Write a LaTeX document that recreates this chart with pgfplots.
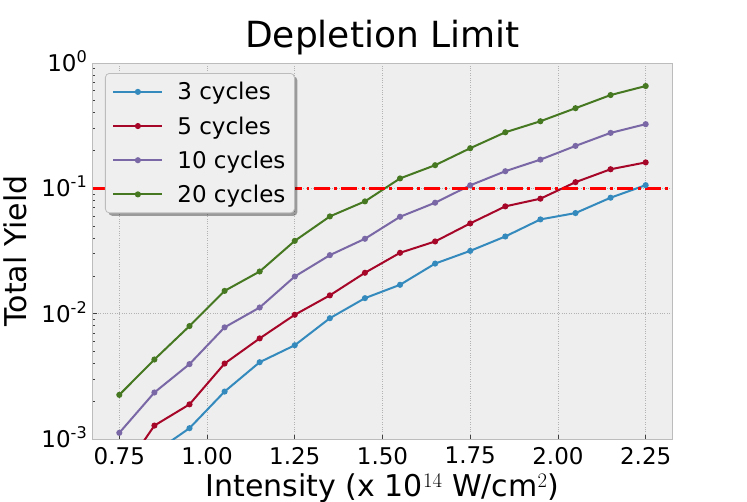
\documentclass[border=0pt]{standalone}
\usepackage{fontspec}
\setmainfont{DejaVu Sans}
\usepackage{pgfplots}
\pgfplotsset{compat=1.18}
\usetikzlibrary{shadows}

\definecolor{bmhblue}{HTML}{348ABD}
\definecolor{bmhred}{HTML}{A60628}
\definecolor{bmhpurple}{HTML}{7A68A6}
\definecolor{bmhgreen}{HTML}{467821}
\definecolor{bgcol}{HTML}{EEEEEE}
\definecolor{framecol}{HTML}{BCBCBC}
\definecolor{gridcol}{HTML}{B2B2B2}
\definecolor{legfill}{HTML}{EFEFEF}

\newcommand{\tickfont}{\fontsize{23bp}{27bp}\selectfont}
\newcommand{\labelfont}{\fontsize{30bp}{34bp}\selectfont}

% the legend's drop shadow should not reach the sample lines inside it
\makeatletter
\tikzset{no preactions/.code={\let\tikz@preactions\pgfutil@empty}}
\makeatother

\begin{document}
\begin{tikzpicture}
\useasboundingbox (-93bp,-63bp) rectangle (654bp,439bp);
\begin{axis}[
    scale only axis,
    width=579bp, height=376bp,
    ymode=log,
    xmin=0.675, xmax=2.325,
    ymin=1e-3, ymax=1,
    axis background/.style={fill=bgcol},
    axis line style={draw=framecol, line width=1bp},
    grid=major,
    major grid style={draw=gridcol, dotted, line width=0.7bp},
    tick align=inside,
    xtick pos=bottom, ytick pos=left,
    tick style={draw=black!75, line width=0.8bp},
    major tick length=4.5bp, minor tick length=2.5bp,
    xtick={0.75,1.0,1.25,1.5,1.75,2.0,2.25},
    xticklabels={0.75,1.00,1.25,1.50,1.75,2.00,2.25},
    ytick={0.001,0.01,0.1,1},
    yticklabels={10\textsuperscript{-3},10\textsuperscript{-2},10\textsuperscript{-1},10\textsuperscript{0}},
    ticklabel style={font=\tickfont},
    xticklabel style={anchor=north, inner sep=0pt, yshift=-8bp},
    yticklabel style={anchor=base east, inner sep=0pt, xshift=-5.5bp, yshift=-8.4bp},
    title={Depletion Limit},
    title style={at={(axis description cs:0.5,1)}, anchor=base, yshift=10bp,
        font=\fontsize{36bp}{40bp}\selectfont},
    xlabel={Intensity (x 10$^{14}$ W/cm$^2$)},
    xlabel style={at={(axis description cs:0.5,0)}, anchor=base, yshift=-57bp, font=\labelfont},
    ylabel={Total Yield},
    ylabel style={at={(axis description cs:-0.1157,0.5)}, anchor=base, font=\labelfont},
    legend style={at={(axis description cs:0,1)}, anchor=north west,
        xshift=12bp, yshift=-10bp,
        fill=legfill, draw=framecol, line width=0.8bp, rounded corners=4bp,
        drop shadow={shadow xshift=3bp, shadow yshift=-3bp, fill=black, opacity=0.35},
        font=\tickfont, inner xsep=7bp, inner ysep=7bp,
        nodes={inner sep=2bp}, row sep=11.2bp, column sep=12bp},
    legend cell align=left,
    legend image code/.code={
        \draw[no preactions, mark repeat=2, mark phase=2]
            plot coordinates {(0bp,0bp) (24.5bp,0bp) (49bp,0bp)};
    },
    every axis plot/.append style={line width=2bp, mark=*, mark size=2bp},
]
% 3 cycles
\addplot[color=bmhblue, mark options={fill=bmhblue, draw=bmhblue}] coordinates {
    (0.75,0.0004) (0.85,0.00078) (0.95,0.00122) (1.05,0.00239) (1.15,0.0041)
    (1.25,0.0056) (1.35,0.0092) (1.45,0.0133) (1.55,0.017) (1.65,0.0251)
    (1.75,0.0317) (1.85,0.0413) (1.95,0.0565) (2.05,0.0635) (2.15,0.0842) (2.25,0.106)};
% 5 cycles
\addplot[color=bmhred, mark options={fill=bmhred, draw=bmhred}] coordinates {
    (0.75,0.0005) (0.85,0.00128) (0.95,0.00189) (1.05,0.0040) (1.15,0.00635)
    (1.25,0.0098) (1.35,0.014) (1.45,0.0212) (1.55,0.0306) (1.65,0.0377)
    (1.75,0.0525) (1.85,0.0718) (1.95,0.0827) (2.05,0.112) (2.15,0.142) (2.25,0.161)};
% 10 cycles
\addplot[color=bmhpurple, mark options={fill=bmhpurple, draw=bmhpurple}] coordinates {
    (0.75,0.00112) (0.85,0.00235) (0.95,0.00396) (1.05,0.00778) (1.15,0.0112)
    (1.25,0.0198) (1.35,0.0293) (1.45,0.0396) (1.55,0.0593) (1.65,0.0768)
    (1.75,0.1057) (1.85,0.137) (1.95,0.1695) (2.05,0.218) (2.15,0.277) (2.25,0.325)};
% 20 cycles
\addplot[color=bmhgreen, mark options={fill=bmhgreen, draw=bmhgreen}] coordinates {
    (0.75,0.00225) (0.85,0.00431) (0.95,0.00797) (1.05,0.0152) (1.15,0.0217)
    (1.25,0.0381) (1.35,0.0597) (1.45,0.0787) (1.55,0.12) (1.65,0.153)
    (1.75,0.209) (1.85,0.28) (1.95,0.343) (2.05,0.436) (2.15,0.555) (2.25,0.655)};
\legend{3 cycles, 5 cycles, 10 cycles, 20 cycles}
% depletion limit
\addplot[red, line width=2.8bp, mark=none, forget plot,
    dash pattern=on 16bp off 4.4bp on 2.8bp off 4.4bp] coordinates {(0.675,0.1) (2.325,0.1)};
\end{axis}
\end{tikzpicture}
\end{document}
